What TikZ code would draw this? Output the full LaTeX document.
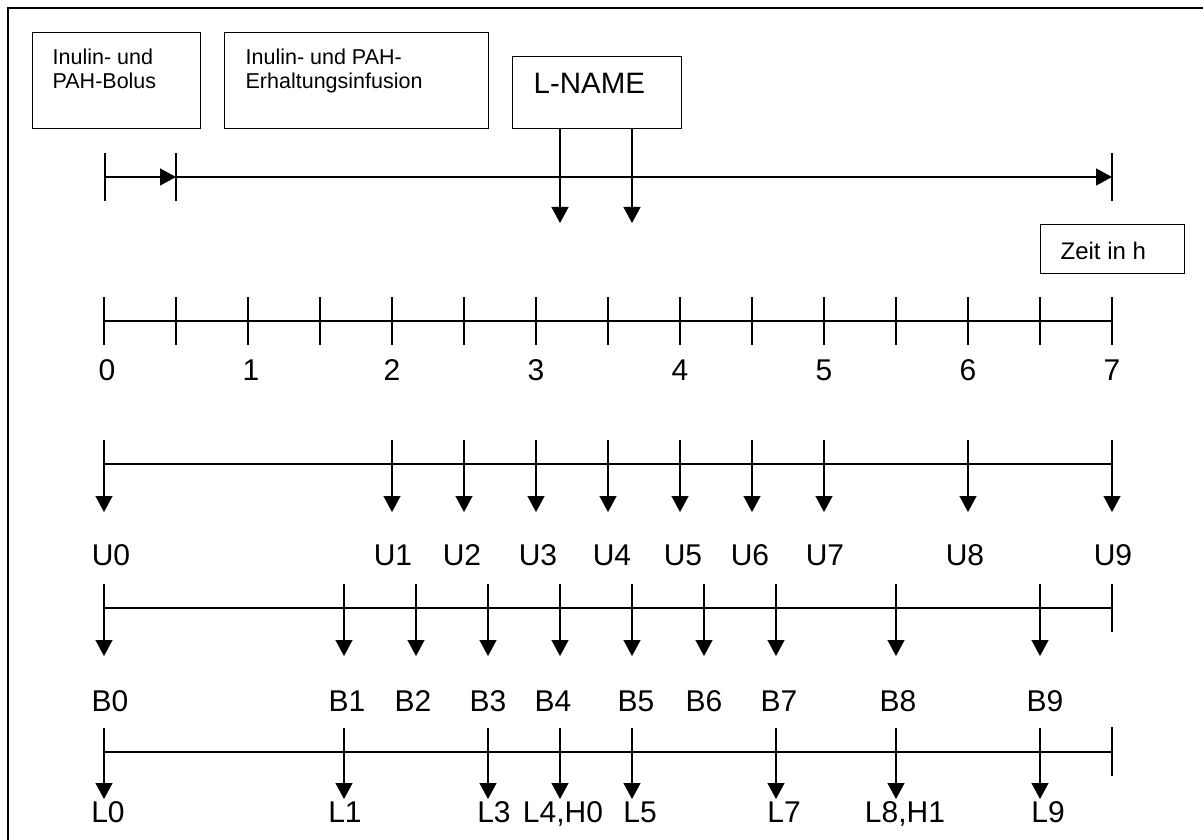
\documentclass[tikz,border=0pt]{standalone}
\usepackage{fontspec}
\setmainfont{Liberation Sans}
\usetikzlibrary{arrows.meta}
\begin{document}
\begin{tikzpicture}[x=1pt,y=-1pt,
  line width=1.3pt,
  tip/.style={-{Triangle[width=17pt,length=16pt]}},
  box/.style={draw, anchor=north west, inner sep=0pt},
  smalltext/.style={anchor=north west, inner sep=0pt, align=left,
    font=\fontsize{21.5}{24}\selectfont},
  bigtext/.style={anchor=base, inner sep=0pt, font=\fontsize{30}{34}\selectfont},
  frame/.style={line width=2pt}]
\useasboundingbox (0,0) rectangle (1203,840);

% outer frame (runs off the right and bottom edges)
\draw[frame] (1215,8) -- (8,8) -- (8,850);

% boxes on top
\node[box, minimum width=168pt, minimum height=96pt] (bolus) at (32,32) {};
\node[smalltext] (bolustxt) at (52,48) {Inulin- und\\PAH-Bolus};
\node[box, minimum width=264pt, minimum height=96pt] (infusion) at (224,32) {};
\node[smalltext] (infusiontxt) at (245,48) {Inulin- und PAH-\\Erhaltungsinfusion};
\node[box, minimum width=169pt, minimum height=72pt] (lname) at (512,56) {};
\node[smalltext, font=\fontsize{29.5}{34}\selectfont] (lnametxt) at (533,73) {L-NAME};
\node[box, minimum width=144pt, minimum height=49pt] (zeit) at (1040,224) {};
\node[smalltext, font=\fontsize{24}{28}\selectfont] (zeittxt) at (1060,241) {Zeit in h};

% L-NAME doses
\coordinate (d1) at (560,223);
\coordinate (d2) at (632,223);
\draw[tip] (lname.south west -| d1) -- (d1);
\draw[tip] (lname.south west -| d2) -- (d2);

% infusion scheme: bolus, then maintenance infusion
\coordinate (i0) at (105,177);
\coordinate (i1) at (176,177);
\coordinate (i2) at (1112,177);
\foreach \c in {i0,i1,i2} \draw ([yshift=-24pt]\c) -- ([yshift=24pt]\c);
\draw[tip] (i0) -- (i1);
\draw[tip] (i1) -- (i2);

% time axis in hours
\coordinate (ta) at (104,321);
\coordinate (tb) at (1112,321);
\draw (ta) -- (tb);
\foreach \k in {0,...,14} {
  \coordinate (tk\k) at (104+72*\k,321);
  \draw ([yshift=-24pt]tk\k) -- ([yshift=24pt]tk\k);
}
\foreach \h/\lx in {0/107,1/251,2/392,3/536,4/680,5/824,6/968,7/1112}
  \node[bigtext] (h\h) at (\lx,380) {\h};

% urine samples
\coordinate (ua) at (104,464);
\coordinate (ub) at (1112,464);
\draw (ua) -- (ub);
\foreach \i/\x/\lx in {0/104/111,1/392/393,2/464/462,3/536/538,4/608/612,
                       5/680/683,6/752/750,7/824/825,8/968/965,9/1112/1113} {
  \coordinate (us\i) at (\x,440);
  \coordinate (ue\i) at (\x,512);
  \draw[tip] (us\i) -- (ue\i);
  \node[bigtext] (U\i) at (\lx,565) {U\i};
}

% blood samples
\coordinate (ba) at (104,608);
\coordinate (bb) at (1112,608);
\draw (ba) -- (bb);
\draw ([yshift=-24pt]bb) -- ([yshift=24pt]bb);
\foreach \i/\x/\lx in {0/104/110,1/344/347,2/416/413,3/488/488,4/560/553,
                       5/632/636,6/704/704,7/776/779,8/896/898,9/1040/1045} {
  \coordinate (bs\i) at (\x,584);
  \coordinate (be\i) at (\x,656);
  \draw[tip] (bs\i) -- (be\i);
  \node[bigtext] (B\i) at (\lx,711) {B\i};
}

% further samples
\coordinate (la) at (104,752);
\coordinate (lb) at (1112,752);
\draw (la) -- (lb);
\draw ([yshift=-24pt]lb) -- ([yshift=25pt]lb);
\foreach \n/\x/\lx/\t in {0/104/108/L0,1/344/345/L1,3/488/494/L3,4/560/563/{L4,H0},
                          5/632/640/L5,7/776/784/L7,8/896/905/{L8,H1},9/1040/1048/L9} {
  \coordinate (ls\n) at (\x,728);
  \coordinate (le\n) at (\x,799);
  \draw[tip] (ls\n) -- (le\n);
  \node[bigtext] (L\n) at (\lx,822) {\t};
}
\end{tikzpicture}
\end{document}
